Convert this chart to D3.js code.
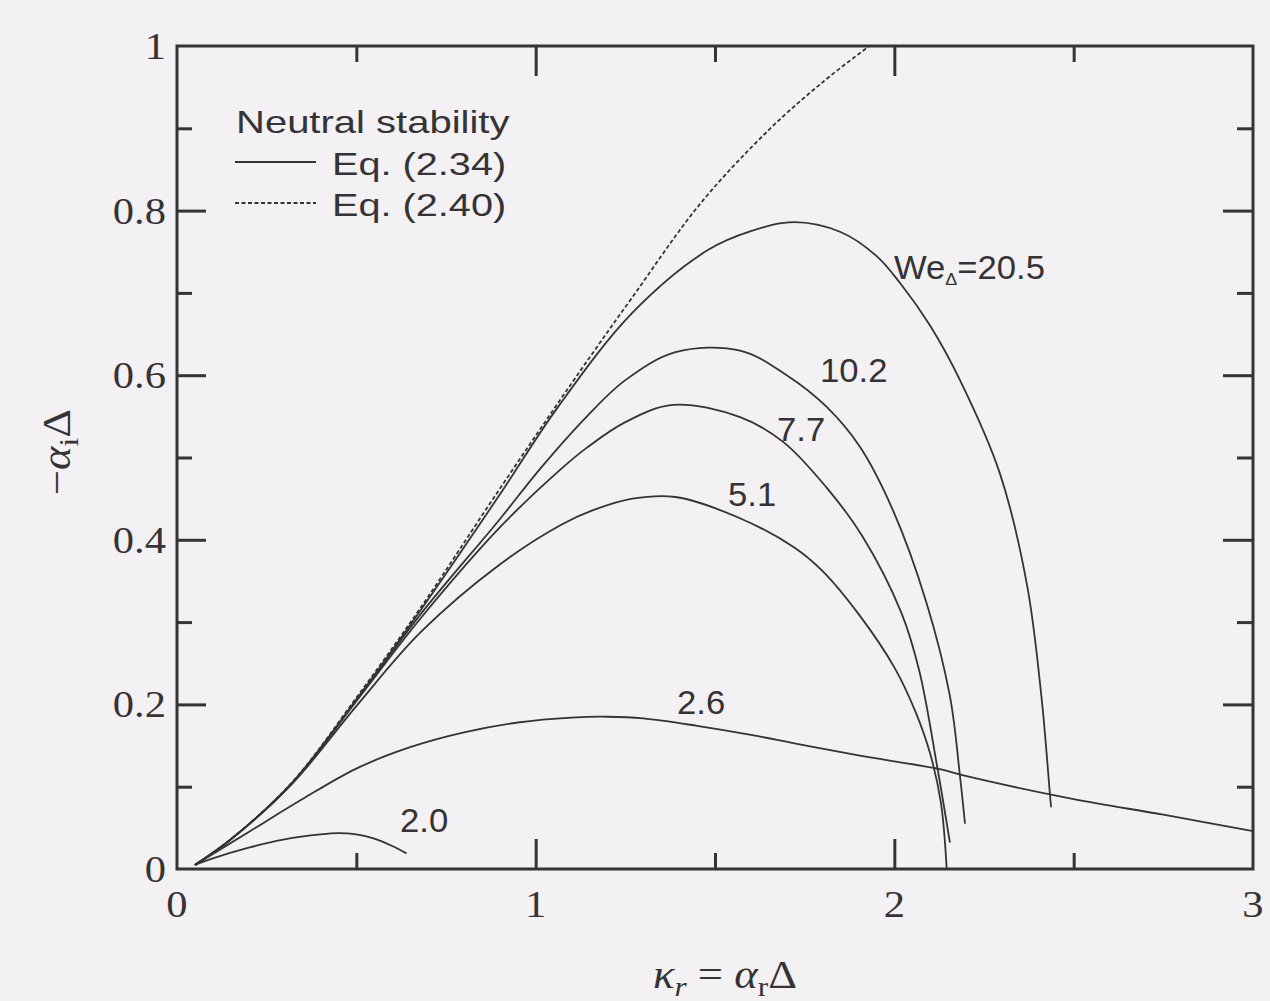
<!DOCTYPE html>
<html>
<head>
<meta charset="utf-8">
<script src="https://cdn.jsdelivr.net/npm/d3@7"></script>
<style>
  html, body { margin: 0; padding: 0; background: #f3f1f3; }
  svg { display: block; }
</style>
</head>
<body>
<svg id="chart" width="1270" height="1001"></svg>
<script>
// Neutral-stability curves, -alpha_i*Delta versus kappa_r, for several Weber numbers (Eq. 2.34)
const weberNumbers = ["20.5", "10.2", "7.7", "5.1", "2.6", "2.0"];

const we205 = [[0.05,0.005],[0.15,0.036],[0.32,0.104],[0.5,0.206],[0.68,0.315],[0.9,0.455],[1.06,0.56],[1.27,0.676],[1.48,0.752],[1.6,0.775],[1.72,0.786],[1.85,0.774],[1.95,0.745],[2.016,0.712],[2.1,0.66],[2.183,0.594],[2.294,0.481],[2.37,0.345],[2.41,0.21],[2.434,0.09],[2.437,0.075]];
const we102 = [[0.05,0.005],[0.15,0.036],[0.32,0.104],[0.5,0.205],[0.68,0.31],[0.9,0.425],[1.01,0.485],[1.143,0.55],[1.25,0.594],[1.39,0.628],[1.57,0.63],[1.7,0.6],[1.81,0.562],[1.904,0.513],[1.996,0.436],[2.09,0.323],[2.155,0.21],[2.183,0.113],[2.197,0.055]];
const we77  = [[0.05,0.005],[0.15,0.036],[0.32,0.104],[0.5,0.204],[0.68,0.305],[0.9,0.415],[1.068,0.485],[1.143,0.512],[1.25,0.543],[1.383,0.564],[1.57,0.549],[1.69,0.519],[1.81,0.464],[1.91,0.405],[2.02,0.311],[2.07,0.24],[2.12,0.123],[2.155,0.032]];
const we51  = [[0.05,0.005],[0.15,0.036],[0.32,0.103],[0.5,0.198],[0.68,0.288],[0.9,0.37],[1.07,0.418],[1.16,0.436],[1.27,0.45],[1.39,0.452],[1.56,0.428],[1.72,0.391],[1.8,0.362],[1.9,0.31],[2.0,0.245],[2.06,0.19],[2.1,0.14],[2.13,0.08],[2.146,0.0]];
const we26  = [[0.05,0.005],[0.2,0.045],[0.35,0.085],[0.5,0.122],[0.65,0.148],[0.8,0.166],[0.95,0.178],[1.1,0.184],[1.2,0.185],[1.3,0.183],[1.45,0.174],[1.6,0.163],[1.74,0.151],[1.9,0.138],[2.13,0.121],[2.19,0.114],[2.5,0.085],[2.75,0.066],[3.0,0.046]];
const we20  = [[0.05,0.005],[0.1,0.013],[0.2,0.026],[0.3,0.036],[0.4,0.042],[0.45,0.0435],[0.5,0.042],[0.55,0.037],[0.6,0.028],[0.64,0.019]];

// Neutral stability from Eq. (2.40)
const eq240 = [[0.05,0.005],[0.15,0.036],[0.32,0.105],[0.5,0.208],[0.68,0.318],[0.9,0.462],[1.1,0.59],[1.27,0.695],[1.46,0.809],[1.65,0.898],[1.8,0.956],[1.93,1.0]];

const solidSeries = [we205, we102, we77, we51, we26, we20];

const xTickLabels = ["0", "1", "2", "3"];
const yTickLabels = ["0", "0.2", "0.4", "0.6", "0.8", "1"];
const xMajor = [1, 2], xMinor = [0.5, 1.5, 2.5];
const yMajor = [0.2, 0.4, 0.6, 0.8], yMinor = [0.1, 0.3, 0.5, 0.7, 0.9];

const ink = "#353335";
const svg = d3.select("#chart");

const x = d3.scaleLinear().domain([0, 3]).range([177, 1253]);
const y = d3.scaleLinear().domain([0, 1]).range([869, 46]);

// stretched text helper
function label(g, str, px, py, opts) {
  const o = Object.assign({size: 33, family: "'Liberation Sans', Arial, sans-serif", anchor: "start", sx: 1}, opts || {});
  return g.append("text")
    .attr("transform", `translate(${px},${py}) scale(${o.sx},1)`)
    .attr("text-anchor", o.anchor)
    .attr("font-family", o.family)
    .attr("font-size", o.size)
    .attr("fill", ink)
    .text(str);
}

const plot = svg.append("g");

// curves
const line = d3.line().x(d => x(d[0])).y(d => y(d[1])).curve(d3.curveCatmullRom.alpha(0.5));

plot.selectAll("path.we").data(solidSeries).join("path")
  .attr("class", "we")
  .attr("d", line)
  .attr("fill", "none")
  .attr("stroke", ink)
  .attr("stroke-width", 1.8);

plot.append("path")
  .datum(eq240)
  .attr("d", line)
  .attr("fill", "none")
  .attr("stroke", ink)
  .attr("stroke-width", 1.8)
  .attr("stroke-dasharray", "4,2.5");

// frame
const frame = svg.append("g").attr("stroke", ink).attr("stroke-width", 3).attr("fill", "none");
frame.append("rect")
  .attr("x", x(0)).attr("y", y(1))
  .attr("width", x(3) - x(0)).attr("height", y(0) - y(1));

// inward ticks on all four sides
function ticks(axisGen, tickVals, len, transform) {
  svg.append("g")
    .attr("transform", transform)
    .call(axisGen.tickValues(tickVals).tickSize(len).tickFormat(""))
    .call(g => g.select(".domain").remove())
    .call(g => g.selectAll("line").attr("stroke", ink).attr("stroke-width", 3));
}
ticks(d3.axisBottom(x), xMajor, -30, `translate(0,${y(0)})`);
ticks(d3.axisBottom(x), xMinor, -16, `translate(0,${y(0)})`);
ticks(d3.axisTop(x), xMajor, -30, `translate(0,${y(1)})`);
ticks(d3.axisTop(x), xMinor, -16, `translate(0,${y(1)})`);
ticks(d3.axisLeft(y), yMajor, -29, `translate(${x(0)},0)`);
ticks(d3.axisLeft(y), yMinor, -15, `translate(${x(0)},0)`);
ticks(d3.axisRight(y), yMajor, -30, `translate(${x(3)},0)`);
ticks(d3.axisRight(y), yMinor, -16, `translate(${x(3)},0)`);

// tick labels (serif)
const serif = "'Liberation Serif', 'Times New Roman', serif";
xTickLabels.forEach(t => {
  label(svg, t, x(+t), 917, {family: serif, size: 38, anchor: "middle", sx: 1.12});
});
yTickLabels.forEach(t => {
  label(svg, t, 166, y(+t) + 13, {family: serif, size: 38, anchor: "end", sx: 1.12});
});

// axis titles
const xt = svg.append("text")
  .attr("transform", "translate(725,988) scale(1.12,1)")
  .attr("text-anchor", "middle")
  .attr("font-family", serif).attr("font-size", 40).attr("fill", ink);
xt.append("tspan").attr("font-style", "italic").text("κ");
xt.append("tspan").attr("font-style", "italic").attr("font-size", 28).attr("dy", 8).text("r");
xt.append("tspan").attr("dy", -8).text(" = ");
xt.append("tspan").attr("font-style", "italic").text("α");
xt.append("tspan").attr("font-size", 28).attr("dy", 8).text("r");
xt.append("tspan").attr("dy", -8).text("Δ");

const yt = svg.append("text")
  .attr("transform", "translate(70,452) rotate(-90) scale(1.12,1)")
  .attr("text-anchor", "middle")
  .attr("font-family", serif).attr("font-size", 40).attr("fill", ink);
yt.append("tspan").text("−");
yt.append("tspan").attr("font-style", "italic").text("α");
yt.append("tspan").attr("font-size", 28).attr("dy", 8).text("i");
yt.append("tspan").attr("dy", -8).text("Δ");

// legend
const lg = svg.append("g");
label(lg, "Neutral stability", 236, 133, {size: 32, sx: 1.25});
lg.append("line").attr("x1", 235).attr("x2", 316).attr("y1", 162).attr("y2", 162)
  .attr("stroke", ink).attr("stroke-width", 1.8);
label(lg, "Eq. (2.34)", 332, 175, {size: 32, sx: 1.24});
lg.append("line").attr("x1", 235).attr("x2", 316).attr("y1", 203).attr("y2", 203)
  .attr("stroke", ink).attr("stroke-width", 1.8).attr("stroke-dasharray", "4,2.5");
label(lg, "Eq. (2.40)", 332, 216, {size: 32, sx: 1.24});

// curve labels
const curveLabels = [
  {text: "10.2", px: 820, py: 382},
  {text: "7.7",  px: 777, py: 441},
  {text: "5.1",  px: 728, py: 506},
  {text: "2.6",  px: 677, py: 714},
  {text: "2.0",  px: 400, py: 832}
];
curveLabels.forEach(d => label(svg, d.text, d.px, d.py, {size: 33, sx: 1.05}));

const weLabel = svg.append("text")
  .attr("transform", "translate(894,279) scale(1.05,1)")
  .attr("font-family", "'Liberation Sans', Arial, sans-serif")
  .attr("font-size", 33).attr("fill", ink);
weLabel.append("tspan").text("We");
weLabel.append("tspan").attr("font-size", 17).attr("dy", 6).text("Δ");
weLabel.append("tspan").attr("dy", -6).text("=" + weberNumbers[0]);
</script>
</body>
</html>
